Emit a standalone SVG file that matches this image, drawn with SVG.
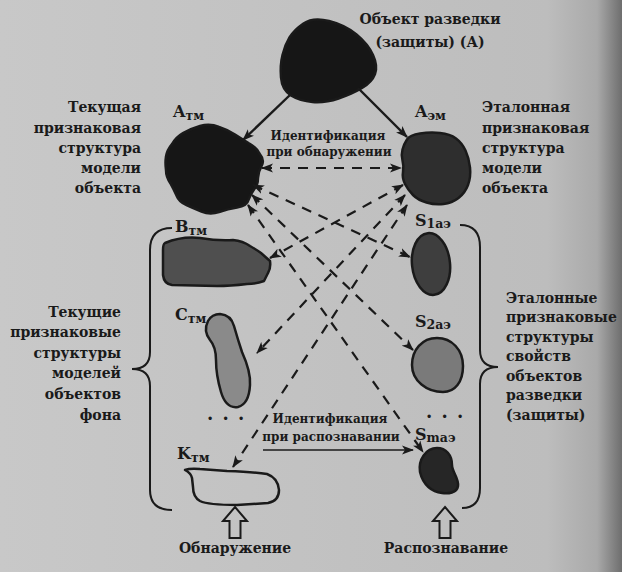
<svg xmlns="http://www.w3.org/2000/svg" width="622" height="572" viewBox="0 0 622 572">
<style>
text{font-family:"DejaVu Serif","Liberation Serif",serif;font-weight:bold;fill:#1a1a1a}
.t18{font-size:14px}
.t16{font-size:12px}
.lbl{font-size:16px}
.sub{font-size:12.5px}
.dots{font-size:18px;word-spacing:3px}
.r{text-anchor:end}
.m{text-anchor:middle}
.blob{stroke:#1a1a1a;stroke-width:2.5;stroke-linejoin:round}
.dash{fill:none;stroke:#1a1a1a;stroke-width:2.2;stroke-dasharray:10 8;marker-start:url(#ah);marker-end:url(#ah)}
.solid{fill:none;stroke:#1a1a1a;stroke-width:2.4;marker-end:url(#ah)}
.brace{fill:none;stroke:#1a1a1a;stroke-width:2}
.hollow{fill:none;stroke:#1a1a1a;stroke-width:2;stroke-linejoin:miter}
</style>
<defs>
<linearGradient id="bg" x1="0" y1="0" x2="1" y2="0">
<stop offset="0" stop-color="#c8c8c8"/>
<stop offset="0.88" stop-color="#bdbdbd"/>
<stop offset="0.96" stop-color="#a9a9a9"/>
<stop offset="1" stop-color="#6e6e6e"/>
</linearGradient>
<marker id="ah" viewBox="0 0 12 10" refX="11" refY="5" markerWidth="12" markerHeight="10" markerUnits="userSpaceOnUse" orient="auto-start-reverse">
<path d="M0,0.5 L12,5 L0,9.5 L3,5 Z" fill="#1a1a1a"/>
</marker>
</defs>
<rect x="0" y="0" width="622" height="572" fill="url(#bg)"/>

<g id="node-A">
<path class="blob" fill="#161616" d="M329,21 Q345,25 356.5,34.5 Q368,44 373,55 Q378,66 375,74 Q372,82 362,88 Q352,94 338.5,98.5 Q325,103 312.5,102 Q300,101 291,95.5 Q282,90 281,77.5 Q280,65 282.5,55 Q285,45 289.5,37.5 Q294,30 303.5,23.5 Q313,17 329,21 Z"/>
<text class="t18 m" x="430" y="24">Объект разведки</text>
<text class="t18 m" x="430" y="47">(защиты) (А)</text>
</g>

<g id="node-Atm">
<path class="blob" fill="#161616" d="M200,126 Q210,123 219,127 Q228,130 235,134.5 Q242,139 248.5,143 Q256,147 259.5,153.5 Q265,160 261.5,166 Q258,172 258,178 Q258,185 254,189.5 Q250,195 248.5,200 Q247,206 237,207.5 Q228,209 219,212 Q210,215 201.5,211.5 Q193,208 186.5,205 Q179,202 176.5,195.5 Q174,190 170.5,183.5 Q166,177 166,170 Q165,163 166,156.5 Q167,150 172,144 Q176,137 183,133 Q190,129 200,126 Z"/>
<text class="lbl" x="173" y="117">A<tspan class="sub" dy="3">тм</tspan></text>
<text class="t18 r" x="141" y="112">Текущая</text>
<text class="t18 r" x="141" y="133">признаковая</text>
<text class="t18 r" x="141" y="153">структура</text>
<text class="t18 r" x="141" y="173">модели</text>
<text class="t18 r" x="141" y="193">объекта</text>
</g>

<g id="node-Aem">
<path class="blob" fill="#2e2e2e" d="M420,133.5 Q430,132 440,133 Q450,134 456,138.5 Q462,143 465.5,150.5 Q469,158 470,167.5 Q471,177 468,185 Q465,193 458.5,198 Q452,203 443.5,204 Q435,205 426.5,202.5 Q418,200 413,195 Q408,190 405,184 Q402,178 403,172 Q404,166 402.5,160.5 Q401,155 402.5,149.5 Q404,144 407,139.5 Q410,135 420,133.5 Z"/>
<text class="lbl" x="415" y="117">A<tspan class="sub" dy="3">эм</tspan></text>
<text class="t18" x="482" y="112">Эталонная</text>
<text class="t18" x="482" y="133">признаковая</text>
<text class="t18" x="482" y="153">структура</text>
<text class="t18" x="482" y="173">модели</text>
<text class="t18" x="482" y="193">объекта</text>
</g>

<g id="node-Btm">
<path class="blob" fill="#4f4f4f" d="M165,243 Q182,236 200,238 Q218,241 233,240 Q243,241 250,246 Q257,250 261,253 L270,261 Q271,268 268,273 L264,281 Q256,284 247,284 Q230,286 217,286 L172,285 Q164,284 163,275 L163,250 Q163,244 165,243 Z"/>
<text class="lbl" x="175" y="232">B<tspan class="sub" dy="3">тм</tspan></text>
</g>

<g id="node-Ctm">
<path class="blob" fill="#8a8a8a" d="M220,314 Q231,315 234,326 Q238,340 242,352 Q251,372 250,385 Q249,404 238,407 Q226,409 221,392 Q216,375 216,360 Q216,347 210,340 Q203,331 208,321 Q212,314 220,314 Z"/>
<text class="lbl" x="175" y="320">C<tspan class="sub" dy="3">тм</tspan></text>
</g>

<g id="node-Ktm">
<path class="blob" fill="none" d="M185,470 Q190,468 200,469 L227,471 Q255,472 267,474 Q278,478 279,490 Q279,501 268,503 L237,505 Q208,505 200,501 Q193,497 193,487 L192,478 Q191,473 185,470 Z"/>
<text class="lbl" x="177" y="459">K<tspan class="sub" dy="3">тм</tspan></text>
</g>

<g id="node-S1">
<ellipse class="blob" fill="#3e3e3e" cx="431" cy="264" rx="19" ry="31" transform="rotate(-6 431 264)"/>
<text class="lbl" x="415" y="226">S<tspan class="sub" dy="2">1аэ</tspan></text>
</g>

<g id="node-S2">
<path class="blob" fill="#7a7a7a" d="M437,338 C452,338 463,350 463,366 C463,382 455,392 443,392 C427,392 412,381 412,365 C412,350 422,338 437,338 Z"/>
<text class="lbl" x="415" y="327">S<tspan class="sub" dy="2">2аэ</tspan></text>
</g>

<g id="node-Sm">
<path class="blob" fill="#262626" d="M437,448 C446,448 452,455 452,465 C452,472 459,478 458,486 C457,493 448,494 442,493 C432,492 423,485 420,472 C418,460 426,448 437,448 Z"/>
<text class="lbl" x="415" y="440">S<tspan class="sub" dy="2">mаэ</tspan></text>
</g>

<g id="group-left">
<path class="brace" d="M172,228 Q150,228 150,250 L150,352 Q150,369 132,369 Q150,369 150,386 L150,490 Q150,510 172,510"/>
<text class="t18 r" x="121" y="317">Текущие</text>
<text class="t18 r" x="121" y="337">признаковые</text>
<text class="t18 r" x="121" y="358">структуры</text>
<text class="t18 r" x="121" y="378">моделей</text>
<text class="t18 r" x="121" y="399">объектов</text>
<text class="t18 r" x="121" y="420">фона</text>
<text class="dots" x="207" y="420">. . .</text>
</g>

<g id="group-right">
<path class="brace" d="M460,225 Q480,225 480,247 L480,350 Q480,367 498,367 Q480,367 480,384 L480,488 Q480,508 462,508"/>
<text class="t18" x="506" y="303">Эталонные</text>
<text class="t18" x="506" y="322">признаковые</text>
<text class="t18" x="506" y="342">структуры</text>
<text class="t18" x="506" y="361">свойств</text>
<text class="t18" x="506" y="381">объектов</text>
<text class="t18" x="506" y="400">разведки</text>
<text class="t18" x="506" y="420">(защиты)</text>
<text class="dots" x="426" y="418">. . .</text>
</g>

<g id="connectors">
<line class="solid" x1="290" y1="95" x2="243" y2="140"/>
<line class="solid" x1="358" y1="88" x2="407" y2="137"/>
<line class="dash" x1="262" y1="168" x2="401" y2="168"/>
<line class="dash" x1="253" y1="185" x2="410" y2="257"/>
<line class="dash" x1="252" y1="195" x2="413" y2="350"/>
<line class="dash" x1="248" y1="205" x2="423" y2="452"/>
<line class="dash" x1="403" y1="185" x2="270" y2="258"/>
<line class="dash" x1="405" y1="195" x2="257" y2="353"/>
<line class="dash" x1="407" y1="205" x2="233" y2="467"/>
<line class="solid" style="stroke-width:1.5" x1="263" y1="450" x2="413" y2="450"/>
<text class="t16 m" x="328" y="140">Идентификация</text>
<text class="t16 m" x="329" y="156">при обнаружении</text>
<text class="t16 m" x="330" y="423">Идентификация</text>
<text class="t16 m" x="331" y="441">при распознавании</text>
</g>

<g id="detect">
<polygon class="hollow" points="235,507 247,521 240.5,521 240.5,538 229.5,538 229.5,521 223,521"/>
<text class="t18 m" x="235" y="553">Обнаружение</text>
</g>
<g id="recognize">
<polygon class="hollow" points="445,507 457,521 450.5,521 450.5,538 439.5,538 439.5,521 433,521"/>
<text class="t18 m" x="446" y="553">Распознавание</text>
</g>
</svg>
